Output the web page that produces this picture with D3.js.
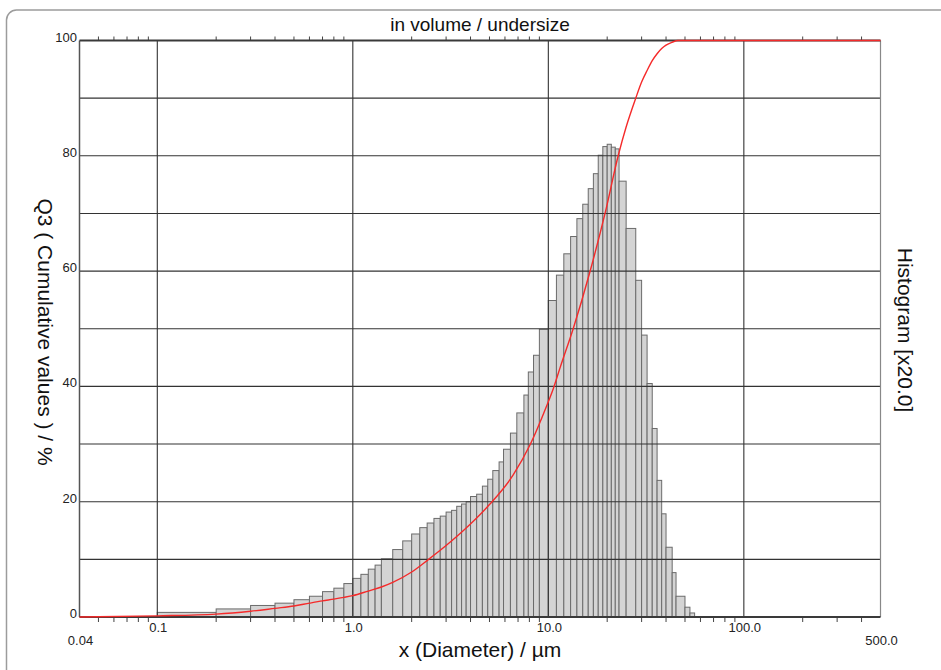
<!DOCTYPE html>
<html>
<head>
<meta charset="utf-8">
<script src="https://cdn.jsdelivr.net/npm/d3@7"></script>
<style>
  body { margin: 0; background: #fff; }
  svg { display: block; font-family: "Liberation Sans", Arial, sans-serif; }
</style>
</head>
<body>
<div id="chart"></div>
<script>
// channel edges (µm) and histogram heights
const binEdges = [0.1, 0.2, 0.3, 0.4, 0.5, 0.6, 0.7, 0.8, 0.9, 1.0, 1.1, 1.2, 1.3, 1.4,
    1.6, 1.8, 2.0, 2.2, 2.4, 2.6, 2.8, 3.0, 3.2, 3.4, 3.6, 3.8, 4.0, 4.3, 4.6, 4.9, 5.2,
    5.6, 5.9, 6.4, 6.9, 7.5, 7.9, 8.4, 9.0, 10, 11, 12, 13, 14, 15, 16, 17, 18, 19, 20,
    21, 22, 23, 25, 28, 30, 32, 34, 36, 38, 40, 43, 45, 50, 53, 56];
const histValues = [0.8, 1.4, 2.0, 2.4, 3.0, 3.6, 4.4, 5.0, 5.8, 6.7, 7.4, 8.3, 9.0, 10.1,
    11.7, 13.2, 14.4, 15.5, 16.3, 17.1, 17.5, 18.2, 18.5, 19.2, 19.6, 20.0, 20.9, 21.3,
    22.7, 23.9, 25.4, 26.9, 29.1, 31.9, 35.4, 38.5, 42.5, 45.4, 49.9, 54.9, 59.3, 63.0,
    66.0, 69.1, 71.6, 74.3, 76.9, 80.1, 81.6, 82.0, 81.5, 81.2, 75.6, 67.4, 58.4, 48.9,
    40.5, 32.7, 23.7, 17.9, 12.1, 7.7, 3.6, 1.7, 0.7];

// cumulative Q3 curve
const q3Diam = [0.04, 0.1, 0.2, 0.3, 0.4, 0.5, 0.6, 0.7, 0.8, 0.9, 1.0, 1.2, 1.4, 1.6, 2.0,
    2.44, 3.0, 3.68, 5.0, 6.6, 8.1, 9.8, 10.6, 11.5, 13.4, 16.3, 19.5, 22.8, 25, 28, 30, 32,
    34, 36, 38, 40, 43, 46, 500];
const q3Values = [0.0, 0.2, 0.5, 1.0, 1.5, 1.9, 2.4, 2.8, 3.1, 3.4, 3.7, 4.5, 5.2, 6.0, 7.8,
    10.0, 12.4, 15.0, 19.5, 24.6, 30.0, 36.6, 39.6, 43.3, 50.0, 59.8, 70.0, 80.1, 85.0, 90.0,
    92.8, 94.8, 96.5, 97.7, 98.6, 99.2, 99.7, 100, 100];

const xTickValues = [0.04, 0.1, 1, 10, 100, 500];
const xTickLabels = ["0.04", "0.1", "1.0", "10.0", "100.0", "500.0"];
const xGridValues = [0.1, 1, 10, 100];
const yTickValues = [0, 20, 40, 60, 80, 100];
const yGridValues = d3.range(0, 101, 10);

const width = 941, height = 670;
const svg = d3.select("#chart").append("svg")
    .attr("width", width)
    .attr("height", height);

// outer frame
svg.append("rect")
    .attr("x", 6.5).attr("y", 10)
    .attr("width", 980).attr("height", 700)
    .attr("rx", 10)
    .attr("fill", "none")
    .attr("stroke", "#9c9c9c")
    .attr("stroke-width", 1.5);

const x = d3.scaleLog().domain([0.04, 500]).range([79.5, 880.5]);
const y = d3.scaleLinear().domain([0, 100]).range([617, 40.5]);

const bars = histValues.map((v, i) => ({x0: binEdges[i], x1: binEdges[i + 1], v}));

svg.append("g").selectAll("rect")
    .data(bars)
    .enter().append("rect")
    .attr("x", d => x(d.x0))
    .attr("y", d => y(d.v))
    .attr("width", d => x(d.x1) - x(d.x0))
    .attr("height", d => y(0) - y(d.v))
    .attr("fill", "#d4d4d4")
    .attr("stroke", "#6b6b6b")
    .attr("stroke-width", 1);

// grid
const grid = svg.append("g").attr("stroke", "#333").attr("stroke-width", 1.1);
grid.selectAll(".hg")
    .data(yGridValues.filter(v => v > 0 && v < 100))
    .enter().append("line")
    .attr("x1", x.range()[0]).attr("x2", x.range()[1])
    .attr("y1", d => y(d)).attr("y2", d => y(d));
grid.selectAll(".vg")
    .data(xGridValues)
    .enter().append("line")
    .attr("x1", d => x(d)).attr("x2", d => x(d))
    .attr("y1", y(100)).attr("y2", y(0));

// frame of plot
svg.append("line")
    .attr("x1", x.range()[0]).attr("x2", x.range()[0])
    .attr("y1", y(100)).attr("y2", y(0))
    .attr("stroke", "#555").attr("stroke-width", 1.5);
svg.append("line")
    .attr("x1", x.range()[1]).attr("x2", x.range()[1])
    .attr("y1", y(100)).attr("y2", y(0))
    .attr("stroke", "#888").attr("stroke-width", 1.2);

// minor ticks top and bottom
const minor = x.ticks().filter(t => {
    const l = Math.log10(t);
    return Math.abs(l - Math.round(l)) > 1e-6 && t > 0.04 && t < 500;
});
svg.append("g").selectAll("line")
    .data(minor)
    .enter().append("line")
    .attr("x1", d => x(d)).attr("x2", d => x(d))
    .attr("y1", y(100)).attr("y2", y(100) - 4)
    .attr("stroke", "#444").attr("stroke-width", 1);
svg.append("g").selectAll("line")
    .data(minor)
    .enter().append("line")
    .attr("x1", d => x(d)).attr("x2", d => x(d))
    .attr("y1", y(0)).attr("y2", y(0) + 5)
    .attr("stroke", "#444").attr("stroke-width", 1);

svg.append("line")
    .attr("x1", x.range()[0]).attr("x2", x.range()[1])
    .attr("y1", y(100)).attr("y2", y(100))
    .attr("stroke", "#3a3a3a").attr("stroke-width", 2);
svg.append("line")
    .attr("x1", x.range()[0]).attr("x2", x.range()[1])
    .attr("y1", y(0)).attr("y2", y(0))
    .attr("stroke", "#3a3a3a").attr("stroke-width", 1.8);

// cumulative curve
const q3 = q3Diam.map((d, i) => [d, q3Values[i]]);
svg.append("path")
    .datum(q3)
    .attr("fill", "none")
    .attr("stroke", "#f52a2a")
    .attr("stroke-width", 1.4)
    .attr("d", d3.line().x(d => x(d[0])).y(d => y(d[1])).curve(d3.curveMonotoneX));

// tick labels
svg.append("g").selectAll("text")
    .data(xTickValues)
    .enter().append("text")
    .attr("x", d => x(d) + 1)
    .attr("y", (d, i) => (i === 0 || i === xTickValues.length - 1) ? 645 : 632)
    .attr("text-anchor", "middle")
    .attr("font-size", 13)
    .attr("fill", "#222")
    .text((d, i) => xTickLabels[i]);

svg.append("g").selectAll("text")
    .data(yTickValues)
    .enter().append("text")
    .attr("x", 77)
    .attr("y", d => y(d) + 1)
    .attr("text-anchor", "end")
    .attr("font-size", 13)
    .attr("fill", "#222")
    .text(d => d);

// titles
svg.append("text")
    .attr("x", 480).attr("y", 31)
    .attr("text-anchor", "middle")
    .attr("font-size", 19)
    .attr("fill", "#111")
    .text("in volume / undersize");

svg.append("text")
    .attr("x", 480).attr("y", 657)
    .attr("text-anchor", "middle")
    .attr("font-size", 21)
    .attr("fill", "#111")
    .text("x (Diameter) / µm");

svg.append("text")
    .attr("transform", "translate(38,332) rotate(90)")
    .attr("text-anchor", "middle")
    .attr("font-size", 21)
    .attr("fill", "#111")
    .text("Q3 ( Cumulative values ) / %");

svg.append("text")
    .attr("transform", "translate(898,330) rotate(90)")
    .attr("text-anchor", "middle")
    .attr("font-size", 21)
    .attr("fill", "#111")
    .text("Histogram [x20.0]");
</script>
</body>
</html>
